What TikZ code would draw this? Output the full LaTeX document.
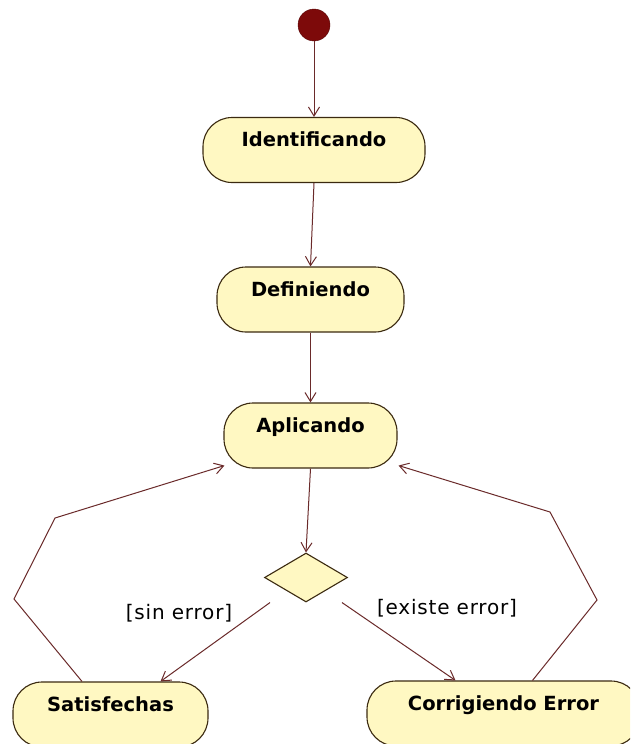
\documentclass[tikz,border=0pt]{standalone}
\usepackage{fontspec}
\setmainfont{DejaVu Sans}
\usetikzlibrary{shapes.geometric,arrows.meta,calc}
\definecolor{statefill}{HTML}{FFF8C2}
\definecolor{stateline}{HTML}{3B2A10}
\definecolor{flow}{HTML}{6A2A2A}
\definecolor{startdot}{HTML}{7D0A0A}
\newfontfamily\guardfont[LetterSpace=4]{DejaVu Sans}
\tikzset{
  state/.style={draw=stateline, fill=statefill, line width=1.1pt,
    rounded corners=29pt, inner xsep=0pt, inner ysep=0pt,
    text height=29pt, text depth=36pt,
    font=\fontsize{19.5}{21}\selectfont\bfseries},
  decision/.style={diamond, draw=stateline, fill=statefill, line width=1.1pt,
    inner sep=0pt, minimum width=83pt, minimum height=49pt},
  guard/.style={font=\guardfont\fontsize{20}{22}\selectfont, inner sep=0pt},
  flowline/.style={draw=flow, line width=1pt,
    -{Straight Barb[length=9pt,width=11pt,line width=1pt]}},
}
\begin{document}
\begin{tikzpicture}[x=1pt,y=-1pt]
\useasboundingbox (0,0) rectangle (630,744);
\clip (0,0) rectangle (630,744);
\fill[white] (0,0) rectangle (630,744);

% initial pseudo-state
\node[circle, fill=startdot, draw=startdot!70!black, minimum size=32pt,
      inner sep=0pt] (start) at (314,25) {};

% activity states
\node[state, minimum width=222pt] (ident) at (314,150)   {Identificando};
\node[state, minimum width=187pt] (defin) at (310.5,299.5) {Definiendo};
\node[state, minimum width=173pt] (aplic) at (310.5,435.5) {Aplicando};
\node[state, minimum width=195pt] (satis) at (110.5,714.5) {Satisfechas};
\node[state, minimum width=273pt] (corr)  at (503.5,713.5) {Corrigiendo Error};

% branch
\node[decision] (dec) at (306,577.5) {};

% guard labels
\node[guard] (gok)  at (179,613) {[sin error]};
\node[guard] (gerr) at (447,608) {[existe error]};

% bends of the return flows
\coordinate (l1) at (14,599);
\coordinate (l2) at (55,518);
\coordinate (r1) at (597,600);
\coordinate (r2) at (550,512);

% main sequence
\draw[flowline] (start.south) -- (ident.north);
\draw[flowline] (ident.south) -- (defin.north);
\draw[flowline] (defin.south) -- (aplic.north);
\draw[flowline] (aplic.south) -- (dec.north);

% branch outcomes
\draw[flowline] ($(dec.south)+(-36,0)$) -- ($(satis.north)+(50,0)$);
\draw[flowline] ($(dec.south)+(36,0)$) -- ($(corr.north)+(-48,0)$);

% return flows
\draw[flowline] ($(satis.north)+(-28.5,0)$) -- (l1) -- (l2)
  -- ($(aplic.south west)+(1,-3)$);
\draw[flowline] ($(corr.north)+(29,0)$) -- (r1) -- (r2)
  -- ($(aplic.south east)+(1,-3)$);
\end{tikzpicture}
\end{document}
